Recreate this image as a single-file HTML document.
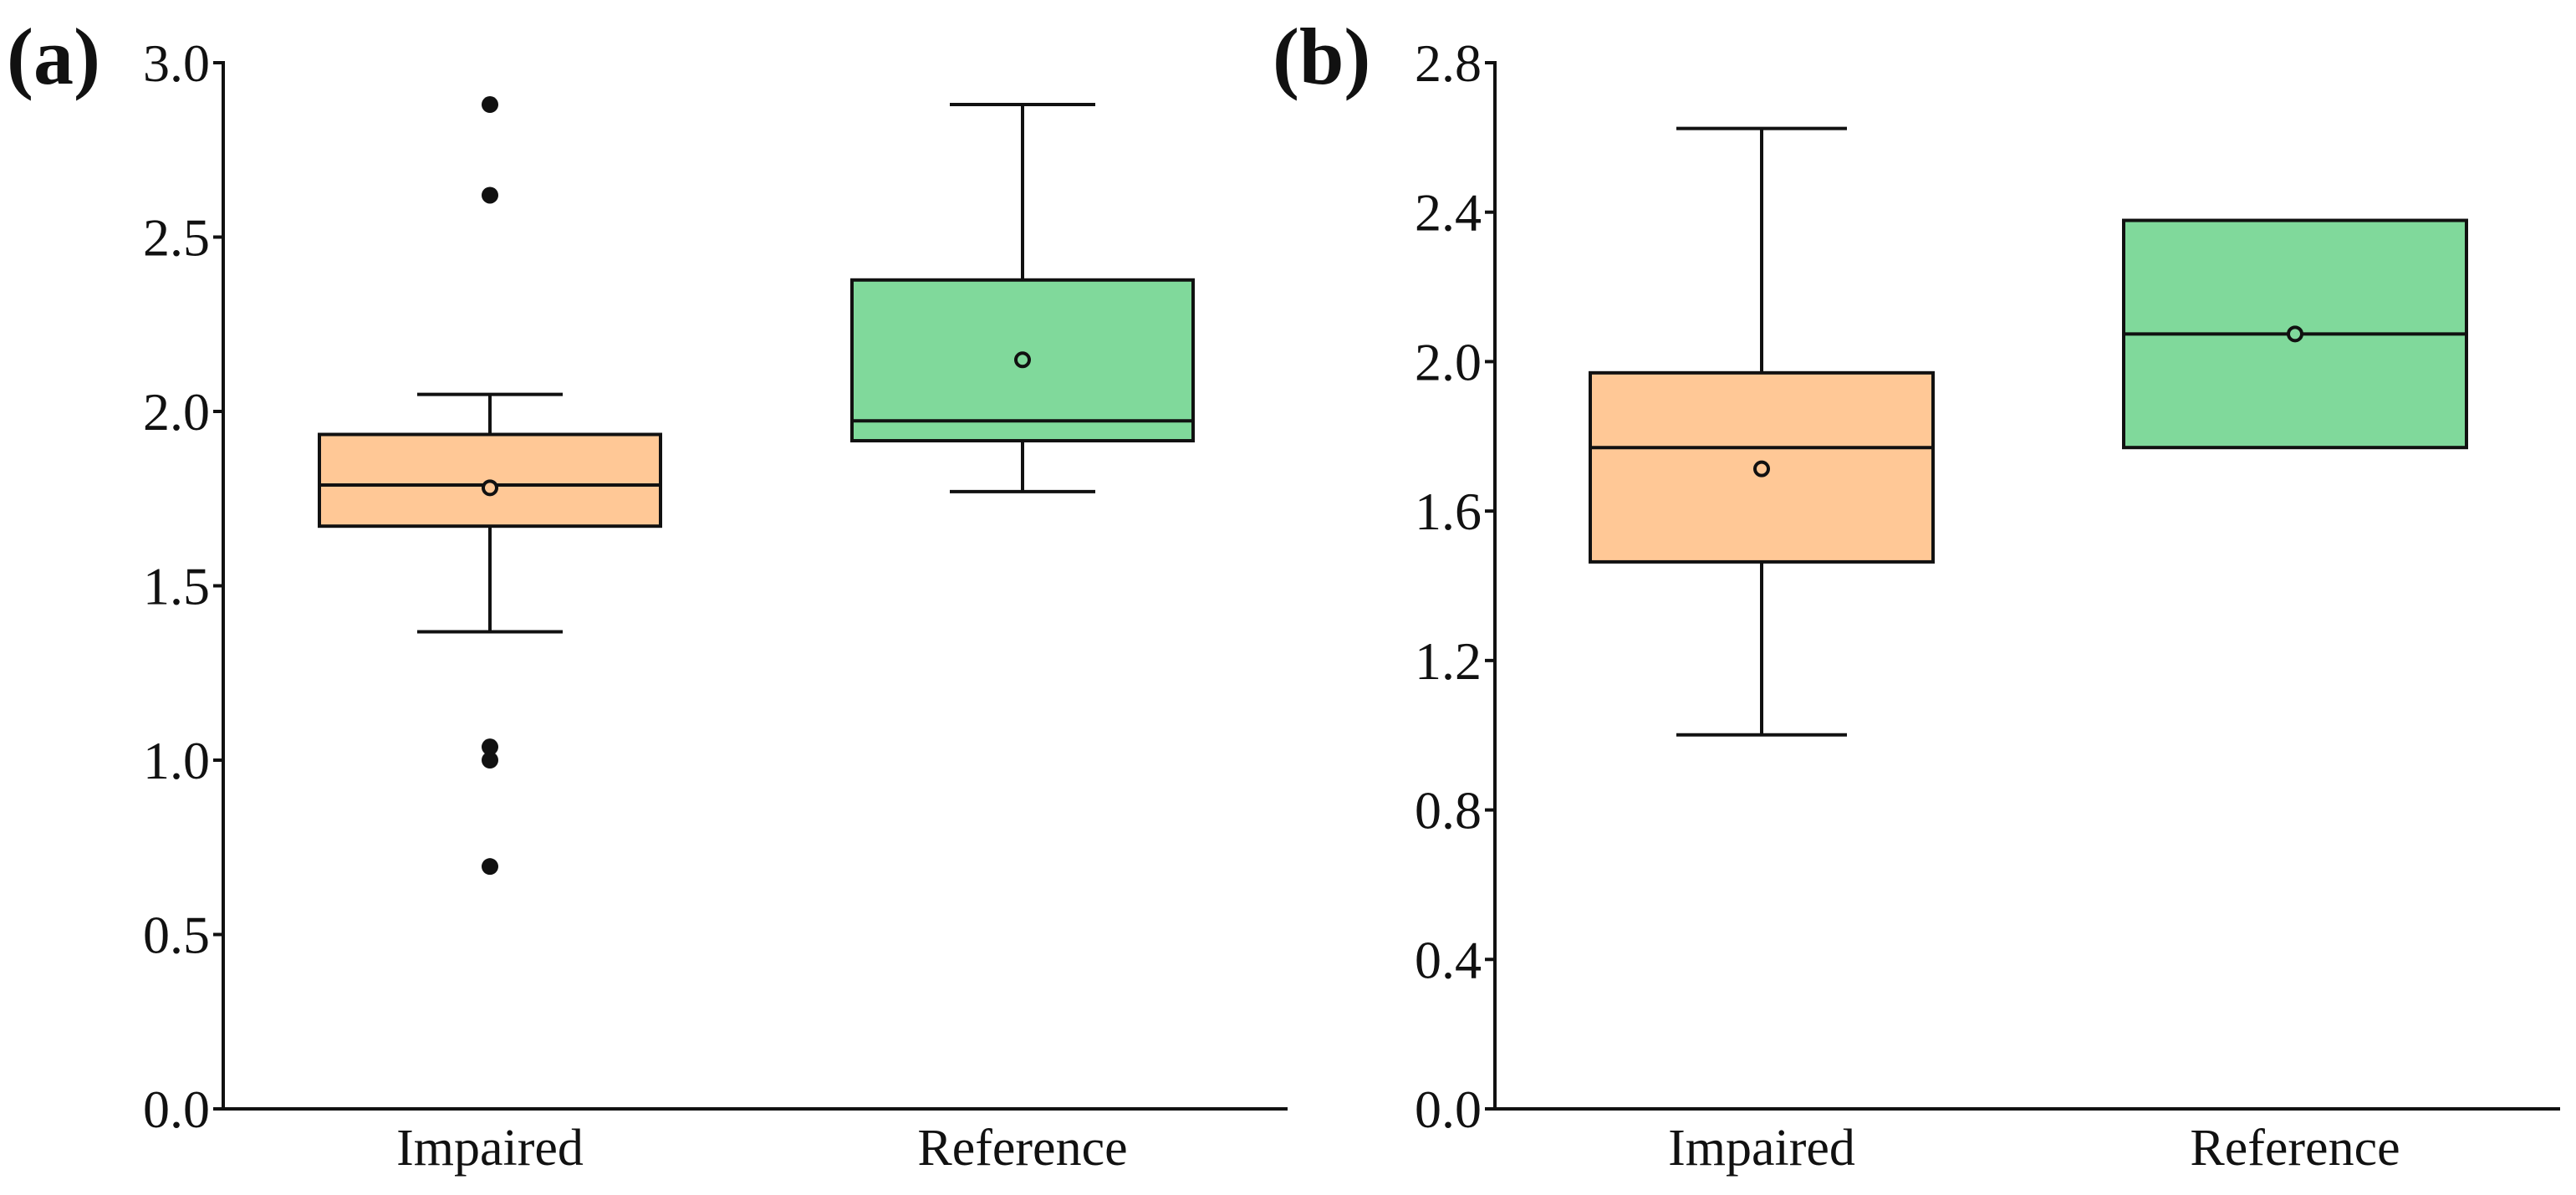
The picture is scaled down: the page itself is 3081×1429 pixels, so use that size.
<!DOCTYPE html>
<html><head><meta charset="utf-8">
<style>
html,body{margin:0;padding:0;background:#fff;}
svg{display:block;}
text{font-family:"Liberation Serif",serif;fill:#111;}
</style></head>
<body>
<svg id="chart" width="3081" height="1429" viewBox="0 0 3081 1429" xmlns="http://www.w3.org/2000/svg"></svg>
<script>
// ---- data ----
const categories = ["Impaired", "Reference"];
// panel a
const aQ1 = [1.671, 1.916];
const aMedian = [1.789, 1.973];
const aQ3 = [1.934, 2.377];
const aMean = [1.781, 2.148];
const aWhiskerLow = [1.368, 1.770];
const aWhiskerHigh = [2.049, 2.880];
const aOutliers = [[2.88, 2.62, 1.038, 1.0, 0.695], []];
const aTicks = [0.0, 0.5, 1.0, 1.5, 2.0, 2.5, 3.0];
const aTickLabels = ["0.0", "0.5", "1.0", "1.5", "2.0", "2.5", "3.0"];
// panel b
const bQ1 = [1.464, 1.770];
const bMedian = [1.770, 2.074];
const bQ3 = [1.970, 2.378];
const bMean = [1.713, 2.074];
const bWhiskerLow = [1.001, 1.770];
const bWhiskerHigh = [2.624, 2.378];
const bOutliers = [[], []];
const bTicks = [0.0, 0.4, 0.8, 1.2, 1.6, 2.0, 2.4, 2.8];
const bTickLabels = ["0.0", "0.4", "0.8", "1.2", "1.6", "2.0", "2.4", "2.8"];
const fills = ["#FFC896", "#80D99B"];

const NS = "http://www.w3.org/2000/svg";
const svg = document.getElementById("chart");
function mk(tag, attrs, parent) {
  const e = document.createElementNS(NS, tag);
  for (const k in attrs) e.setAttribute(k, attrs[k]);
  (parent || svg).appendChild(e);
  return e;
}

function panel(cfg) {
  const g = mk("g", {});
  
  
  const y = v => cfg.y0 - (v - cfg.vmin) / (cfg.vmax - cfg.vmin) * (cfg.y0 - cfg.yTop);
  const x = i => cfg.centers[i];
  // axes
  const ya = mk("line", {x1: cfg.axisX, y1: y(cfg.vmax) - 2, x2: cfg.axisX, y2: cfg.y0 + 2, stroke: "#111", "stroke-width": 4}, g);
  
  
  const xa = mk("line", {x1: cfg.axisX - 12, y1: cfg.y0, x2: cfg.axisEnd, y2: cfg.y0, stroke: "#111", "stroke-width": 4}, g);
  
  
  cfg.ticks.forEach((t, i) => {
    const tk = mk("line", {x1: cfg.axisX - 12, y1: y(t), x2: cfg.axisX, y2: y(t), stroke: "#111", "stroke-width": 4}, g);
    
    
    const tl = mk("text", {x: cfg.axisX - 16, y: y(t) + 22, "text-anchor": "end", "font-size": 64}, g);
    tl.textContent = cfg.tickLabels[i];
    
    
  });
  const lbl = mk("text", {x: cfg.labelX, y: 100, "font-size": 96, "font-weight": "bold"}, g);
  lbl.textContent = cfg.label;
  
  

  categories.forEach((c, i) => {
    const cx = x(i), hw = cfg.boxHalf, cw = cfg.capHalf;
    const bg = mk("g", {}, g);
    
    
    // whiskers
    if (cfg.wHi[i] > cfg.q3[i] + 1e-6) {
      mk("line", {x1: cx, y1: y(cfg.q3[i]), x2: cx, y2: y(cfg.wHi[i]), stroke: "#111", "stroke-width": 4}, bg);
      const cap = mk("line", {x1: cx - cw, y1: y(cfg.wHi[i]), x2: cx + cw, y2: y(cfg.wHi[i]), stroke: "#111", "stroke-width": 4}, bg);
      
      
    }
    if (cfg.wLo[i] < cfg.q1[i] - 1e-6) {
      mk("line", {x1: cx, y1: y(cfg.q1[i]), x2: cx, y2: y(cfg.wLo[i]), stroke: "#111", "stroke-width": 4}, bg);
      const cap = mk("line", {x1: cx - cw, y1: y(cfg.wLo[i]), x2: cx + cw, y2: y(cfg.wLo[i]), stroke: "#111", "stroke-width": 4}, bg);
      
      
    }
    const r = mk("rect", {x: cx - hw, y: y(cfg.q3[i]), width: 2 * hw, height: y(cfg.q1[i]) - y(cfg.q3[i]), fill: fills[i], stroke: "#111", "stroke-width": 4}, bg);
    
    
    const m = mk("line", {x1: cx - hw, y1: y(cfg.med[i]), x2: cx + hw, y2: y(cfg.med[i]), stroke: "#111", "stroke-width": 4}, bg);
    
    
    const mc = mk("circle", {cx: cx, cy: y(cfg.mean[i]), r: 8, fill: fills[i], stroke: "#111", "stroke-width": 4}, bg);
    
    
    cfg.out[i].forEach(v => {
      const o = mk("circle", {cx: cx, cy: y(v), r: 10, fill: "#111"}, bg);
      
      
    });
    const xl = mk("text", {x: cx, y: 1393, "text-anchor": "middle", "font-size": 62}, g);
    xl.textContent = c;
    
    
  });
}

panel({name: "panel-a", label: "(a)", labelX: 8, axisX: 267, axisEnd: 1540, y0: 1326, yTop: 75,
  vmin: 0, vmax: 3.0, centers: [586, 1223], boxHalf: 204, capHalf: 87,
  ticks: aTicks, tickLabels: aTickLabels,
  q1: aQ1, med: aMedian, q3: aQ3, mean: aMean, wLo: aWhiskerLow, wHi: aWhiskerHigh, out: aOutliers});
panel({name: "panel-b", label: "(b)", labelX: 1522, axisX: 1788, axisEnd: 3062, y0: 1326, yTop: 75,
  vmin: 0, vmax: 2.8, centers: [2107, 2745], boxHalf: 205, capHalf: 102,
  ticks: bTicks, tickLabels: bTickLabels,
  q1: bQ1, med: bMedian, q3: bQ3, mean: bMean, wLo: bWhiskerLow, wHi: bWhiskerHigh, out: bOutliers});
</script>
</body></html>
